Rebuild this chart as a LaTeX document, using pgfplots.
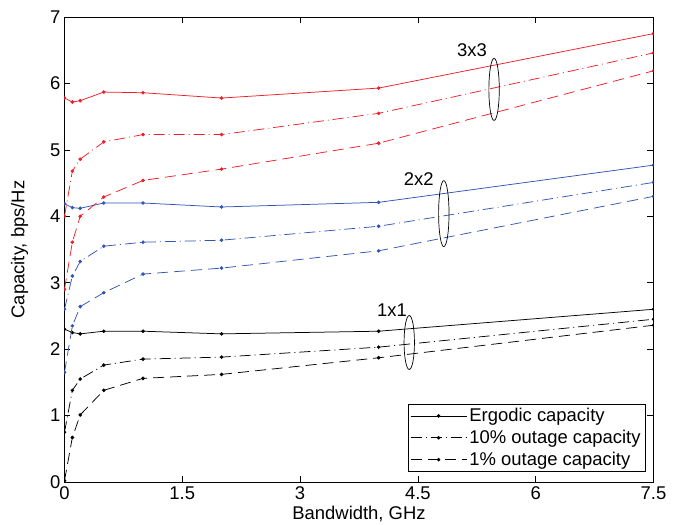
\documentclass[border=0pt]{standalone}
\usepackage{pgfplots}
\pgfplotsset{compat=1.18}
\usepackage{fontspec}
\setmainfont{Liberation Sans}
\definecolor{mred}{RGB}{240,30,40}
\definecolor{mblue}{RGB}{50,85,180}
\begin{document}
\begin{tikzpicture}
\useasboundingbox (-64.5bp,-43bp) rectangle (612.5bp,482bp);
\begin{axis}[
  scale only axis, width=589bp, height=465bp,
  xmin=0, xmax=7.5, ymin=0, ymax=7,
  xtick={0,1.5,3,4.5,6,7.5},
  xticklabels={0,1.5,3,4.5,6,7.5},
  ytick={0,1,...,7},
  tick align=inside, major tick length=6bp,
  axis line style={line width=1bp},
  every tick/.style={black, line width=0.6bp},
  /pgf/number format/assume math mode=true,
  font=\fontsize{18.5}{21}\selectfont,
  tick label style={font=\fontsize{18.5}{21}\selectfont},
  xticklabel style={yshift=-1bp},
  yticklabel style={xshift=-0.5bp},
  xlabel={Bandwidth, GHz},
  ylabel={Capacity, bps/Hz},
  xlabel style={at={(axis description cs:0.5,0)}, anchor=center, yshift=-32bp},
  ylabel style={at={(axis description cs:-0.076,0.5)}, anchor=center},
  clip marker paths=true,
  every axis plot/.append style={line width=0.75bp, mark=*, mark size=1.4bp},
  legend style={at={(1,0)}, anchor=south east, xshift=-8bp, yshift=10bp,
    draw=black, line width=0.9bp, fill=white, font=\fontsize{18.5}{21}\selectfont,
    row sep=2bp, inner sep=2bp, nodes={inner sep=2.5bp}},
  legend cell align=left,
  legend image code/.code={\draw[#1, mark repeat=2, mark phase=2, line width=0.75bp] plot coordinates {(2bp,0bp)(30bp,0bp)(58bp,0bp)};},
]
% 1x1
\addplot[black, solid, mark options={solid}] coordinates {(0,2.30)(0.1,2.25)(0.2,2.23)(0.5,2.27)(1,2.27)(2,2.23)(4,2.27)(7.5,2.60)};
\addplot[black, dash pattern=on 11bp off 4bp on 1bp off 4bp, mark options={solid}] coordinates {(0,0.75)(0.1,1.38)(0.2,1.55)(0.5,1.76)(1,1.85)(2,1.88)(4,2.03)(7.5,2.45)};
\addplot[black, dash pattern=on 11bp off 6bp, mark options={solid}] coordinates {(0,0.02)(0.1,0.67)(0.2,1.01)(0.5,1.38)(1,1.56)(2,1.62)(4,1.87)(7.5,2.36)};
\legend{Ergodic capacity, 10\% outage capacity, 1\% outage capacity}
% 2x2
\addplot[mblue, solid, mark options={solid}] coordinates {(0,4.19)(0.1,4.13)(0.2,4.12)(0.5,4.20)(1,4.20)(2,4.14)(4,4.21)(7.5,4.77)};
\addplot[mblue, dash pattern=on 11bp off 4bp on 1bp off 4bp, mark options={solid}] coordinates {(0,2.6)(0.1,3.10)(0.2,3.32)(0.5,3.55)(1,3.61)(2,3.64)(4,3.85)(7.5,4.51)};
\addplot[mblue, dash pattern=on 11bp off 6bp, mark options={solid}] coordinates {(0,1.65)(0.1,2.35)(0.2,2.64)(0.5,2.85)(1,3.13)(2,3.22)(4,3.48)(7.5,4.30)};
% 3x3
\addplot[mred, solid, mark options={solid}] coordinates {(0,5.78)(0.1,5.72)(0.2,5.74)(0.5,5.87)(1,5.86)(2,5.78)(4,5.93)(7.5,6.75)};
\addplot[mred, dash pattern=on 11bp off 4bp on 1bp off 4bp, mark options={solid}] coordinates {(0,4.0)(0.1,4.68)(0.2,4.86)(0.5,5.12)(1,5.23)(2,5.23)(4,5.55)(7.5,6.46)};
\addplot[mred, dash pattern=on 11bp off 6bp, mark options={solid}] coordinates {(0,2.9)(0.1,3.61)(0.2,4.00)(0.5,4.29)(1,4.54)(2,4.71)(4,5.10)(7.5,6.19)};
% annotations
\draw[black, line width=0.7bp] (axis cs:5.47,5.91) ellipse [x radius=5.2bp, y radius=31bp];
\draw[black, line width=0.7bp] (axis cs:4.83,4.04) ellipse [x radius=5.2bp, y radius=33bp];
\draw[black, line width=0.7bp] (axis cs:4.39,2.10) ellipse [x radius=5.2bp, y radius=27bp];
\node[font=\fontsize{18.5}{21}\selectfont] at (axis cs:5.19,6.50) {3x3};
\node[font=\fontsize{18.5}{21}\selectfont] at (axis cs:4.51,4.56) {2x2};
\node[font=\fontsize{18.5}{21}\selectfont] at (axis cs:4.17,2.59) {1x1};
\end{axis}
\end{tikzpicture}
\end{document}
